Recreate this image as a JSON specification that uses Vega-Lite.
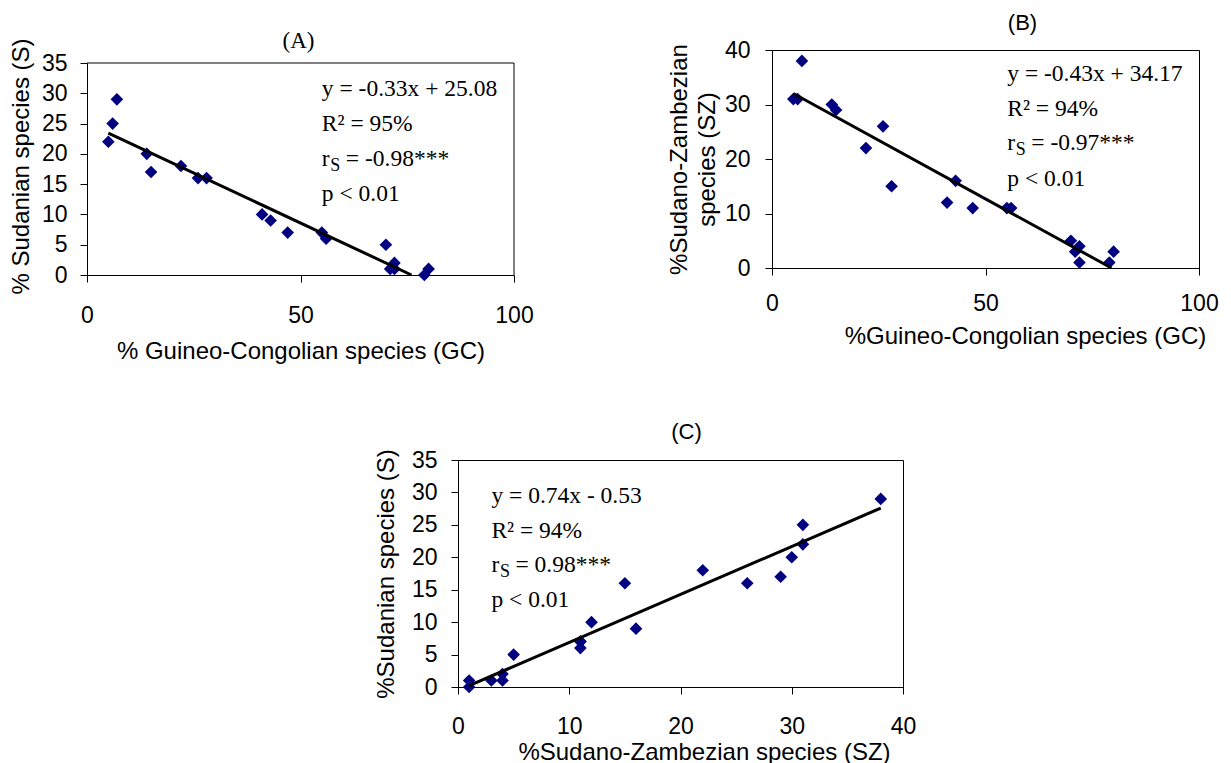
{
  "$schema": "https://vega.github.io/schema/vega-lite/v6.json",
  "background": "white",
  "padding": {"left": 9, "top": 11, "right": 5, "bottom": 0},
  "config": {
    "view": {"stroke": "#000", "strokeWidth": 1},
    "axis": {"grid": false, "domainColor": "#000", "tickColor": "#000", "tickSize": 7, "labelFont": "Liberation Sans", "labelFontSize": 23, "labelColor": "#000", "titleFont": "Liberation Sans", "titleFontSize": 24, "titleFontWeight": "normal", "titleColor": "#000", "labelOverlap": false, "labelFlush": false},
    "title": {"color": "#000", "fontWeight": "normal", "anchor": "middle"},
    "text": {"font": "Liberation Serif", "fontSize": 23.5, "color": "#000", "align": "left", "baseline": "alphabetic", "lineHeight": 35}
  },
  "datasets": {
    "A": [
      {"GC": 5, "S": 22}, {"GC": 6, "S": 25}, {"GC": 7, "S": 29}, {"GC": 14, "S": 20}, {"GC": 15, "S": 17},
      {"GC": 22, "S": 18}, {"GC": 26, "S": 16}, {"GC": 28, "S": 16}, {"GC": 41, "S": 10}, {"GC": 43, "S": 9},
      {"GC": 47, "S": 7}, {"GC": 55, "S": 7}, {"GC": 56, "S": 6}, {"GC": 70, "S": 5}, {"GC": 71, "S": 1},
      {"GC": 72, "S": 2}, {"GC": 72, "S": 1}, {"GC": 79, "S": 0}, {"GC": 80, "S": 1}
    ],
    "B": [
      {"GC": 5, "SZ": 31}, {"GC": 6, "SZ": 31}, {"GC": 7, "SZ": 38}, {"GC": 14, "SZ": 30}, {"GC": 15, "SZ": 29},
      {"GC": 22, "SZ": 22}, {"GC": 26, "SZ": 26}, {"GC": 28, "SZ": 15}, {"GC": 41, "SZ": 12}, {"GC": 43, "SZ": 16},
      {"GC": 47, "SZ": 11}, {"GC": 55, "SZ": 11}, {"GC": 56, "SZ": 11}, {"GC": 70, "SZ": 5}, {"GC": 71, "SZ": 3},
      {"GC": 72, "SZ": 4}, {"GC": 72, "SZ": 1}, {"GC": 79, "SZ": 1}, {"GC": 80, "SZ": 3}
    ],
    "C": [
      {"SZ": 1, "S": 1}, {"SZ": 1, "S": 0}, {"SZ": 3, "S": 1}, {"SZ": 4, "S": 2}, {"SZ": 4, "S": 1},
      {"SZ": 5, "S": 5}, {"SZ": 11, "S": 7}, {"SZ": 11, "S": 7}, {"SZ": 11, "S": 6}, {"SZ": 12, "S": 10},
      {"SZ": 15, "S": 16}, {"SZ": 16, "S": 9}, {"SZ": 22, "S": 18}, {"SZ": 26, "S": 16}, {"SZ": 29, "S": 17},
      {"SZ": 30, "S": 20}, {"SZ": 31, "S": 22}, {"SZ": 31, "S": 25}, {"SZ": 38, "S": 29}
    ],
    "lineA": [{"x": 5, "y": 23.43}, {"x": 76, "y": 0}],
    "lineB": [{"x": 5, "y": 32.02}, {"x": 79.5, "y": 0}],
    "lineC": [{"x": 1, "y": 0.21}, {"x": 38, "y": 27.59}]
  },
  "spacing": 57,
  "vconcat": [
    {
      "spacing": 132,
      "hconcat": [
        {
          "width": 427, "height": 225,
          "view": {"stroke": null},
          "title": {"text": "(A)", "font": "Liberation Serif", "fontSize": 23, "offset": -26, "dx": -2, "frame": "group", "baseline": "middle"},
          "layer": [
            {
              "data": {"name": "A"},
              "mark": {"type": "point", "shape": "diamond", "filled": true, "size": 160, "color": "#000080", "opacity": 1},
              "encoding": {
                "x": {"field": "GC", "type": "quantitative", "scale": {"domain": [0, 100], "nice": false},
                      "axis": {"values": [0, 50, 100], "title": "% Guineo-Congolian species (GC)", "labelPadding": 22, "titlePadding": 12}},
                "y": {"field": "S", "type": "quantitative", "scale": {"domain": [0, 35], "nice": false, "range": [225, 13]},
                      "axis": {"values": [0, 5, 10, 15, 20, 25, 30, 35], "title": "% Sudanian species (S)", "labelPadding": 13, "titlePadding": 8, "titleY": 116}}
              }
            },
            {"data": {"values": [{}]}, "mark": {"type": "rule", "color": "#000", "strokeWidth": 1},
             "encoding": {
               "x": {"datum": 0, "type": "quantitative", "axis": {"values": [0, 50, 100], "title": "% Guineo-Congolian species (GC)", "labelPadding": 22, "titlePadding": 12}},
               "x2": {"datum": 100},
               "y": {"datum": 35, "type": "quantitative", "axis": {"values": [0, 5, 10, 15, 20, 25, 30, 35], "title": "% Sudanian species (S)", "labelPadding": 13, "titlePadding": 8, "titleY": 116}}}},
            {"data": {"values": [{}]}, "mark": {"type": "rule", "color": "#000", "strokeWidth": 1},
             "encoding": {
               "x": {"datum": 100, "type": "quantitative", "axis": {"values": [0, 50, 100], "title": "% Guineo-Congolian species (GC)", "labelPadding": 22, "titlePadding": 12}},
               "y": {"datum": 0, "type": "quantitative", "axis": {"values": [0, 5, 10, 15, 20, 25, 30, 35], "title": "% Sudanian species (S)", "labelPadding": 13, "titlePadding": 8, "titleY": 116}},
               "y2": {"datum": 35}}},
            {
              "data": {"name": "lineA"},
              "mark": {"type": "line", "color": "#000", "strokeWidth": 3},
              "encoding": {
                "x": {"field": "x", "type": "quantitative", "axis": {"values": [0, 50, 100], "title": "% Guineo-Congolian species (GC)", "labelPadding": 22, "titlePadding": 12}},
                "y": {"field": "y", "type": "quantitative", "axis": {"values": [0, 5, 10, 15, 20, 25, 30, 35], "title": "% Sudanian species (S)", "labelPadding": 13, "titlePadding": 8, "titleY": 116}}}
            },
            {"data": {"values": [{}]}, "mark": {"type": "text"},
             "encoding": {
               "x": {"datum": 55, "type": "quantitative", "axis": {"values": [0, 50, 100], "title": "% Guineo-Congolian species (GC)", "labelPadding": 22, "titlePadding": 12}},
               "y": {"datum": 29.6, "type": "quantitative", "axis": {"values": [0, 5, 10, 15, 20, 25, 30, 35], "title": "% Sudanian species (S)", "labelPadding": 13, "titlePadding": 8, "titleY": 116}},
               "text": {"value": ["y = -0.33x + 25.08", "R² = 95%"]}}},
            {"data": {"values": [{}]}, "mark": {"type": "text"},
             "encoding": {
               "x": {"datum": 55, "type": "quantitative", "axis": {"values": [0, 50, 100], "title": "% Guineo-Congolian species (GC)", "labelPadding": 22, "titlePadding": 12}},
               "y": {"datum": 18.05, "type": "quantitative", "axis": {"values": [0, 5, 10, 15, 20, 25, 30, 35], "title": "% Sudanian species (S)", "labelPadding": 13, "titlePadding": 8, "titleY": 116}},
               "text": {"value": "r"}}},
            {"data": {"values": [{}]}, "mark": {"type": "text", "fontSize": 18, "dx": 8.5, "dy": 5},
             "encoding": {
               "x": {"datum": 55, "type": "quantitative", "axis": {"values": [0, 50, 100], "title": "% Guineo-Congolian species (GC)", "labelPadding": 22, "titlePadding": 12}},
               "y": {"datum": 18.05, "type": "quantitative", "axis": {"values": [0, 5, 10, 15, 20, 25, 30, 35], "title": "% Sudanian species (S)", "labelPadding": 13, "titlePadding": 8, "titleY": 116}},
               "text": {"value": "S"}}},
            {"data": {"values": [{}]}, "mark": {"type": "text", "dx": 24},
             "encoding": {
               "x": {"datum": 55, "type": "quantitative", "axis": {"values": [0, 50, 100], "title": "% Guineo-Congolian species (GC)", "labelPadding": 22, "titlePadding": 12}},
               "y": {"datum": 18.05, "type": "quantitative", "axis": {"values": [0, 5, 10, 15, 20, 25, 30, 35], "title": "% Sudanian species (S)", "labelPadding": 13, "titlePadding": 8, "titleY": 116}},
               "text": {"value": "= -0.98***"}}},
            {"data": {"values": [{}]}, "mark": {"type": "text"},
             "encoding": {
               "x": {"datum": 55, "type": "quantitative", "axis": {"values": [0, 50, 100], "title": "% Guineo-Congolian species (GC)", "labelPadding": 22, "titlePadding": 12}},
               "y": {"datum": 12.27, "type": "quantitative", "axis": {"values": [0, 5, 10, 15, 20, 25, 30, 35], "title": "% Sudanian species (S)", "labelPadding": 13, "titlePadding": 8, "titleY": 116}},
               "text": {"value": "p < 0.01"}}}
          ]
        },
        {
          "width": 427, "height": 218,
          "title": {"text": "(B)", "font": "Liberation Sans", "fontSize": 22, "offset": -6, "dx": 37, "frame": "group", "baseline": "middle"},
          "layer": [
            {
              "data": {"name": "B"},
              "mark": {"type": "point", "shape": "diamond", "filled": true, "size": 160, "color": "#000080", "opacity": 1},
              "encoding": {
                "x": {"field": "GC", "type": "quantitative", "scale": {"domain": [0, 100], "nice": false},
                      "axis": {"values": [0, 50, 100], "title": "%Guineo-Congolian species (GC)", "labelPadding": 17, "titlePadding": 9, "titleX": 253}},
                "y": {"field": "SZ", "type": "quantitative", "scale": {"domain": [0, 40], "nice": false},
                      "axis": {"values": [0, 10, 20, 30, 40], "title": ["%Sudano-Zambezian", "species (SZ)"], "titleLineHeight": 28, "labelPadding": 15, "titlePadding": 5}}
              }
            },
            {
              "data": {"name": "lineB"},
              "mark": {"type": "line", "color": "#000", "strokeWidth": 3},
              "encoding": {
                "x": {"field": "x", "type": "quantitative", "axis": {"values": [0, 50, 100], "title": "%Guineo-Congolian species (GC)", "labelPadding": 17, "titlePadding": 9, "titleX": 253}},
                "y": {"field": "y", "type": "quantitative", "axis": {"values": [0, 10, 20, 30, 40], "title": ["%Sudano-Zambezian", "species (SZ)"], "titleLineHeight": 28, "labelPadding": 15, "titlePadding": 5}}}
            },
            {"data": {"values": [{}]}, "mark": {"type": "text"},
             "encoding": {
               "x": {"datum": 55.1, "type": "quantitative", "axis": {"values": [0, 50, 100], "title": "%Guineo-Congolian species (GC)", "labelPadding": 17, "titlePadding": 9, "titleX": 253}},
               "y": {"datum": 34.4, "type": "quantitative", "axis": {"values": [0, 10, 20, 30, 40], "title": ["%Sudano-Zambezian", "species (SZ)"], "titleLineHeight": 28, "labelPadding": 15, "titlePadding": 5}},
               "text": {"value": ["y = -0.43x + 34.17", "R² = 94%"]}}},
            {"data": {"values": [{}]}, "mark": {"type": "text"},
             "encoding": {
               "x": {"datum": 55.1, "type": "quantitative", "axis": {"values": [0, 50, 100], "title": "%Guineo-Congolian species (GC)", "labelPadding": 17, "titlePadding": 9, "titleX": 253}},
               "y": {"datum": 21.56, "type": "quantitative", "axis": {"values": [0, 10, 20, 30, 40], "title": ["%Sudano-Zambezian", "species (SZ)"], "titleLineHeight": 28, "labelPadding": 15, "titlePadding": 5}},
               "text": {"value": "r"}}},
            {"data": {"values": [{}]}, "mark": {"type": "text", "fontSize": 18, "dx": 8.5, "dy": 5},
             "encoding": {
               "x": {"datum": 55.1, "type": "quantitative", "axis": {"values": [0, 50, 100], "title": "%Guineo-Congolian species (GC)", "labelPadding": 17, "titlePadding": 9, "titleX": 253}},
               "y": {"datum": 21.56, "type": "quantitative", "axis": {"values": [0, 10, 20, 30, 40], "title": ["%Sudano-Zambezian", "species (SZ)"], "titleLineHeight": 28, "labelPadding": 15, "titlePadding": 5}},
               "text": {"value": "S"}}},
            {"data": {"values": [{}]}, "mark": {"type": "text", "dx": 24},
             "encoding": {
               "x": {"datum": 55.1, "type": "quantitative", "axis": {"values": [0, 50, 100], "title": "%Guineo-Congolian species (GC)", "labelPadding": 17, "titlePadding": 9, "titleX": 253}},
               "y": {"datum": 21.56, "type": "quantitative", "axis": {"values": [0, 10, 20, 30, 40], "title": ["%Sudano-Zambezian", "species (SZ)"], "titleLineHeight": 28, "labelPadding": 15, "titlePadding": 5}},
               "text": {"value": "= -0.97***"}}},
            {"data": {"values": [{}]}, "mark": {"type": "text"},
             "encoding": {
               "x": {"datum": 55.1, "type": "quantitative", "axis": {"values": [0, 50, 100], "title": "%Guineo-Congolian species (GC)", "labelPadding": 17, "titlePadding": 9, "titleX": 253}},
               "y": {"datum": 15.13, "type": "quantitative", "axis": {"values": [0, 10, 20, 30, 40], "title": ["%Sudano-Zambezian", "species (SZ)"], "titleLineHeight": 28, "labelPadding": 15, "titlePadding": 5}},
               "text": {"value": "p < 0.01"}}}
          ]
        }
      ]
    },
    {
      "spacing": 10,
      "hconcat": [
        {
          "width": 276, "height": 10,
          "view": {"stroke": null},
          "data": {"values": [{}]},
          "mark": {"type": "text", "text": " ", "opacity": 0},
          "encoding": {}
        },
        {
          "width": 445, "height": 227,
          "title": {"text": "(C)", "font": "Liberation Sans", "fontSize": 22, "offset": -5.5, "dx": 6, "frame": "group", "baseline": "middle"},
          "layer": [
            {
              "data": {"name": "C"},
              "mark": {"type": "point", "shape": "diamond", "filled": true, "size": 160, "color": "#000080", "opacity": 1},
              "encoding": {
                "x": {"field": "SZ", "type": "quantitative", "scale": {"domain": [0, 40], "nice": false},
                      "axis": {"values": [0, 10, 20, 30, 40], "title": "%Sudano-Zambezian species (SZ)", "labelPadding": 21, "titlePadding": 2, "titleX": 246}},
                "y": {"field": "S", "type": "quantitative", "scale": {"domain": [0, 35], "nice": false},
                      "axis": {"values": [0, 5, 10, 15, 20, 25, 30, 35], "title": "%Sudanian species (S)", "labelPadding": 14, "titlePadding": 13}}
              }
            },
            {
              "data": {"name": "lineC"},
              "mark": {"type": "line", "color": "#000", "strokeWidth": 3},
              "encoding": {
                "x": {"field": "x", "type": "quantitative", "axis": {"values": [0, 10, 20, 30, 40], "title": "%Sudano-Zambezian species (SZ)", "labelPadding": 21, "titlePadding": 2, "titleX": 246}},
                "y": {"field": "y", "type": "quantitative", "axis": {"values": [0, 5, 10, 15, 20, 25, 30, 35], "title": "%Sudanian species (S)", "labelPadding": 14, "titlePadding": 13}}}
            },
            {"data": {"values": [{}]}, "mark": {"type": "text", "lineHeight": 34.5},
             "encoding": {
               "x": {"datum": 3, "type": "quantitative", "axis": {"values": [0, 10, 20, 30, 40], "title": "%Sudano-Zambezian species (SZ)", "labelPadding": 21, "titlePadding": 2, "titleX": 246}},
               "y": {"datum": 28.36, "type": "quantitative", "axis": {"values": [0, 5, 10, 15, 20, 25, 30, 35], "title": "%Sudanian species (S)", "labelPadding": 14, "titlePadding": 13}},
               "text": {"value": ["y = 0.74x - 0.53", "R² = 94%"]}}},
            {"data": {"values": [{}]}, "mark": {"type": "text"},
             "encoding": {
               "x": {"datum": 3, "type": "quantitative", "axis": {"values": [0, 10, 20, 30, 40], "title": "%Sudano-Zambezian species (SZ)", "labelPadding": 21, "titlePadding": 2, "titleX": 246}},
               "y": {"datum": 17.72, "type": "quantitative", "axis": {"values": [0, 5, 10, 15, 20, 25, 30, 35], "title": "%Sudanian species (S)", "labelPadding": 14, "titlePadding": 13}},
               "text": {"value": "r"}}},
            {"data": {"values": [{}]}, "mark": {"type": "text", "fontSize": 18, "dx": 8.5, "dy": 5},
             "encoding": {
               "x": {"datum": 3, "type": "quantitative", "axis": {"values": [0, 10, 20, 30, 40], "title": "%Sudano-Zambezian species (SZ)", "labelPadding": 21, "titlePadding": 2, "titleX": 246}},
               "y": {"datum": 17.72, "type": "quantitative", "axis": {"values": [0, 5, 10, 15, 20, 25, 30, 35], "title": "%Sudanian species (S)", "labelPadding": 14, "titlePadding": 13}},
               "text": {"value": "S"}}},
            {"data": {"values": [{}]}, "mark": {"type": "text", "dx": 24},
             "encoding": {
               "x": {"datum": 3, "type": "quantitative", "axis": {"values": [0, 10, 20, 30, 40], "title": "%Sudano-Zambezian species (SZ)", "labelPadding": 21, "titlePadding": 2, "titleX": 246}},
               "y": {"datum": 17.72, "type": "quantitative", "axis": {"values": [0, 5, 10, 15, 20, 25, 30, 35], "title": "%Sudanian species (S)", "labelPadding": 14, "titlePadding": 13}},
               "text": {"value": "= 0.98***"}}},
            {"data": {"values": [{}]}, "mark": {"type": "text"},
             "encoding": {
               "x": {"datum": 3, "type": "quantitative", "axis": {"values": [0, 10, 20, 30, 40], "title": "%Sudano-Zambezian species (SZ)", "labelPadding": 21, "titlePadding": 2, "titleX": 246}},
               "y": {"datum": 12.4, "type": "quantitative", "axis": {"values": [0, 5, 10, 15, 20, 25, 30, 35], "title": "%Sudanian species (S)", "labelPadding": 14, "titlePadding": 13}},
               "text": {"value": "p < 0.01"}}}
          ]
        }
      ]
    }
  ]
}
